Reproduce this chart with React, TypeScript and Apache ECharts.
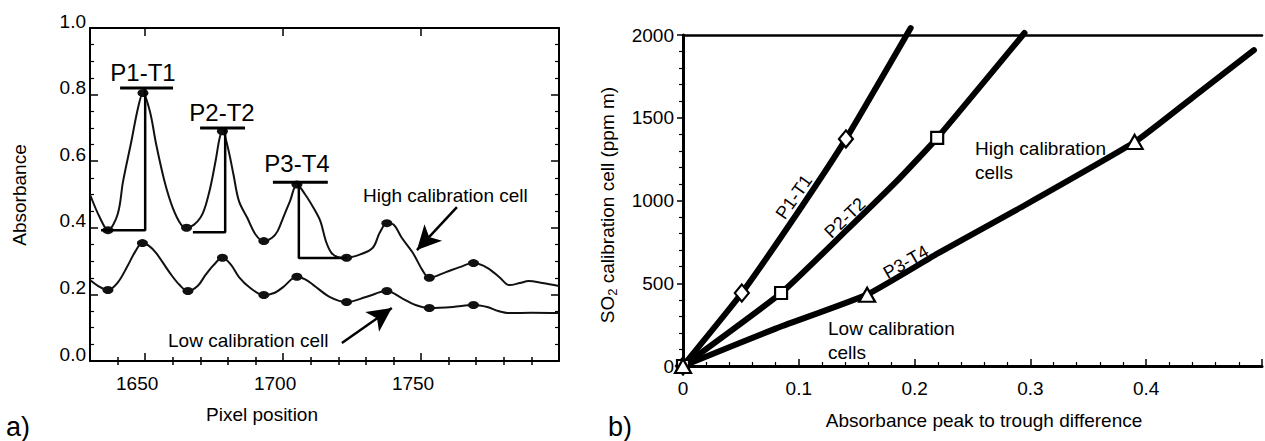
import { useEffect, useRef } from "react";
import * as echarts from "echarts";

// ---------- Panel a: absorbance spectra ----------
const highPixel = [1630, 1633.6, 1636.5, 1640, 1642, 1645, 1647.4, 1649.2, 1651.7, 1654, 1657, 1660, 1663, 1665, 1670, 1673, 1675.5, 1677, 1678, 1680, 1682, 1684, 1687, 1690, 1693, 1696, 1698, 1700, 1702.5, 1705, 1708, 1711, 1713.5, 1715.5, 1717.5, 1720, 1723, 1728, 1732.5, 1735, 1737.6, 1740, 1743, 1747, 1750.7, 1753, 1759, 1764, 1769, 1774, 1778.6, 1782, 1785.8, 1789, 1794, 1800];
const highAbs = [0.5, 0.43, 0.393, 0.44, 0.54, 0.66, 0.76, 0.805, 0.75, 0.65, 0.54, 0.46, 0.41, 0.4, 0.43, 0.5, 0.6, 0.67, 0.69, 0.64, 0.56, 0.48, 0.43, 0.38, 0.36, 0.37, 0.39, 0.43, 0.48, 0.53, 0.5, 0.46, 0.42, 0.36, 0.325, 0.312, 0.31, 0.32, 0.34, 0.385, 0.414, 0.41, 0.37, 0.325, 0.27, 0.25, 0.267, 0.282, 0.294, 0.28, 0.25, 0.228, 0.234, 0.24, 0.234, 0.225];
const highMarkPixel = [1636.5, 1649.2, 1665, 1678, 1693, 1705, 1723, 1737.6, 1753, 1769];
const highMarkAbs = [0.393, 0.805, 0.4, 0.69, 0.36, 0.53, 0.31, 0.414, 0.25, 0.294];

const lowPixel = [1630, 1633, 1636.5, 1640, 1643.4, 1646.5, 1649, 1651.5, 1654, 1659, 1662.5, 1665.5, 1669, 1672, 1675, 1678, 1681, 1684, 1688, 1693, 1697, 1700, 1705, 1708, 1711, 1717, 1723, 1730, 1737.6, 1743, 1748, 1753, 1761.5, 1769, 1774, 1778, 1782, 1790, 1800];
const lowAbs = [0.243, 0.225, 0.213, 0.235, 0.282, 0.33, 0.354, 0.345, 0.324, 0.264, 0.228, 0.21, 0.225, 0.26, 0.29, 0.31, 0.29, 0.252, 0.22, 0.198, 0.205, 0.222, 0.253, 0.245, 0.228, 0.192, 0.177, 0.192, 0.21, 0.189, 0.168, 0.159, 0.162, 0.168, 0.162, 0.15, 0.144, 0.145, 0.144];
const lowMarkPixel = [1636.5, 1649, 1665.5, 1678, 1693, 1705, 1723, 1737.6, 1753, 1769];
const lowMarkAbs = [0.213, 0.354, 0.21, 0.31, 0.198, 0.253, 0.177, 0.21, 0.159, 0.168];

const pixelTicks = [1650, 1700, 1750];
const pixelMinorTicks = [1640, 1660, 1670, 1680, 1690, 1710, 1720, 1730, 1740, 1760, 1770, 1780, 1790];

// peak-to-trough brackets
const bracketNames = ["P1-T1", "P2-T2", "P3-T4"];
const bracketBarFrom = [1640.9, 1669.9, 1696.3];
const bracketBarTo = [1660.1, 1686.2, 1716.2];
const bracketPeakPixel = [1650, 1679, 1705.7];
const bracketPeakAbs = [0.82, 0.7, 0.537];
const bracketTroughPixel = [1634, 1667.3, 1723.1];
const bracketTroughAbs = [0.393, 0.387, 0.309];

// arrows (from -> to) in data coordinates
const arrowFromPixel = [1763, 1721.3];
const arrowFromAbs = [0.462, 0.054];
const arrowToPixel = [1748.5, 1739.4];
const arrowToAbs = [0.333, 0.159];

// ---------- Panel b: calibration ----------
const p1Diff = [0, 0.0508, 0.1017, 0.1407, 0.1966];
const p1Conc = [0, 441, 955, 1372, 2042];
const p2Diff = [0, 0.0847, 0.1415, 0.1839, 0.2195, 0.2949];
const p2Conc = [0, 441, 822, 1112, 1378, 2012];
const p3Diff = [0, 0.08, 0.159, 0.22, 0.288, 0.39, 0.44, 0.493];
const p3Conc = [0, 226, 432, 680, 943, 1353, 1622, 1909];

const p1MarkDiff = [0, 0.0508, 0.1407];
const p1MarkConc = [0, 441, 1372];
const p2MarkDiff = [0, 0.0847, 0.2195];
const p2MarkConc = [0, 441, 1378];
const p3MarkDiff = [0, 0.159, 0.39];
const p3MarkConc = [0, 430, 1354];

const FONT = "'Liberation Sans', Arial, Helvetica, sans-serif";
const BLACK = "#000";

const zip = (xs: number[], ys: number[]) => xs.map((x, i) => [x, ys[i]]);

function buildOption() {
  const tickStyle = { color: BLACK, width: 1.5 };
  const labelBase = { color: BLACK, fontSize: 19, fontFamily: FONT };
  const xAxis: any[] = [
    // 0: panel a bottom, majors + labels
    {
      gridIndex: 0, type: "value", position: "bottom", min: 1630, max: 1800,
      axisLine: { show: true, onZero: false, lineStyle: { color: BLACK, width: 2 } },
      axisTick: { show: true, inside: true, length: 8, customValues: pixelTicks, lineStyle: tickStyle },
      axisLabel: {
        show: true, customValues: pixelTicks, margin: 13, ...labelBase,
        formatter: (v: number) => `{a|${v}}`,
        rich: { a: { ...labelBase, padding: [0, 16, 0, 0] } },
      },
      splitLine: { show: false },
    },
    // 1: panel a bottom minor
    {
      gridIndex: 0, type: "value", position: "bottom", min: 1630, max: 1800,
      axisLine: { show: false },
      axisTick: { show: true, inside: true, length: 4, customValues: pixelMinorTicks, lineStyle: tickStyle },
      axisLabel: { show: false },
      splitLine: { show: false },
    },
    // 2: panel a top majors
    {
      gridIndex: 0, type: "value", position: "top", min: 1630, max: 1800,
      axisLine: { show: true, onZero: false, lineStyle: { color: BLACK, width: 2 } },
      axisTick: { show: true, inside: true, length: 8, customValues: pixelTicks, lineStyle: tickStyle },
      axisLabel: { show: false },
      splitLine: { show: false },
    },
    // 3: panel a top minor
    {
      gridIndex: 0, type: "value", position: "top", min: 1630, max: 1800,
      axisLine: { show: false },
      axisTick: { show: true, inside: true, length: 4, customValues: pixelMinorTicks, lineStyle: tickStyle },
      axisLabel: { show: false },
      splitLine: { show: false },
    },
    // 4: panel b bottom
    {
      gridIndex: 1, type: "value", position: "bottom", min: 0, max: 0.5, interval: 0.1,
      axisLine: { show: true, onZero: false, lineStyle: { color: BLACK, width: 3 } },
      axisTick: { show: true, inside: true, length: 7, lineStyle: tickStyle },
      minorTick: { show: true, splitNumber: 5, length: 4, lineStyle: { color: BLACK, width: 1.2 } },
      axisLabel: {
        ...labelBase, margin: 13,
        formatter: (v: number) => (v === 0 ? "0" : v >= 0.5 ? "" : v.toFixed(1)),
      },
      splitLine: { show: false },
    },
    // 5: panel b top line
    {
      gridIndex: 1, type: "value", position: "top", min: 0, max: 0.5,
      axisLine: { show: true, onZero: false, lineStyle: { color: BLACK, width: 2.5 } },
      axisTick: { show: false }, axisLabel: { show: false }, splitLine: { show: false },
    },
  ];

  const yAxis: any[] = [
    {
      gridIndex: 0, type: "value", position: "left", min: 0, max: 1, interval: 0.2,
      axisLine: { show: true, onZero: false, lineStyle: { color: BLACK, width: 2 } },
      axisTick: { show: true, inside: true, length: 8, lineStyle: tickStyle },
      minorTick: { show: true, splitNumber: 4, length: 4, lineStyle: { color: BLACK, width: 1.2 } },
      axisLabel: {
        ...labelBase, margin: 4,
        formatter: (v: number) => `{a|${v.toFixed(1)}}`,
        rich: { a: { ...labelBase, padding: [0, 0, 14, 0] } },
      },
      splitLine: { show: false },
    },
    {
      gridIndex: 0, type: "value", position: "right", min: 0, max: 1, interval: 0.2,
      axisLine: { show: true, onZero: false, lineStyle: { color: BLACK, width: 2 } },
      axisTick: { show: true, inside: true, length: 8, lineStyle: tickStyle },
      minorTick: { show: true, splitNumber: 4, length: 4, lineStyle: { color: BLACK, width: 1.2 } },
      axisLabel: { show: false },
      splitLine: { show: false },
    },
    {
      gridIndex: 1, type: "value", position: "left", min: 0, max: 2000, interval: 500,
      axisLine: { show: true, onZero: false, lineStyle: { color: BLACK, width: 3 } },
      axisTick: { show: true, inside: false, length: 6, lineStyle: tickStyle },
      minorTick: { show: true, splitNumber: 5, length: 4, lineStyle: { color: BLACK, width: 1.2 } },
      axisLabel: { ...labelBase, margin: 9, formatter: (v: number) => String(v) },
      splitLine: { show: false },
    },
  ];

  const series: any[] = [];
  // spectra
  series.push({
    type: "line", xAxisIndex: 0, yAxisIndex: 0, data: zip(highPixel, highAbs), smooth: 0.35,
    showSymbol: false, lineStyle: { color: "#111", width: 2 },
    markLine: {
      silent: true, symbol: ["none", "arrow"], symbolSize: [18, 24], label: { show: false },
      lineStyle: { color: BLACK, width: 2.5, type: "solid" },
      itemStyle: { color: BLACK },
      data: arrowFromPixel.map((x, i) => [
        { coord: [x, arrowFromAbs[i]] },
        { coord: [arrowToPixel[i], arrowToAbs[i]] },
      ]),
    },
  });
  series.push({
    type: "scatter", xAxisIndex: 0, yAxisIndex: 0, data: zip(highMarkPixel, highMarkAbs),
    symbol: "circle", symbolSize: [11, 8], itemStyle: { color: "#111", opacity: 1 },
  });
  series.push({
    type: "line", xAxisIndex: 0, yAxisIndex: 0, data: zip(lowPixel, lowAbs), smooth: 0.35,
    showSymbol: false, lineStyle: { color: "#111", width: 2 },
  });
  series.push({
    type: "scatter", xAxisIndex: 0, yAxisIndex: 0, data: zip(lowMarkPixel, lowMarkAbs),
    symbol: "circle", symbolSize: [11, 8], itemStyle: { color: "#111", opacity: 1 },
  });
  bracketNames.forEach((_, i) => {
    series.push({
      type: "line", xAxisIndex: 0, yAxisIndex: 0, showSymbol: false,
      lineStyle: { color: BLACK, width: 3 },
      data: [[bracketBarFrom[i], bracketPeakAbs[i]], [bracketBarTo[i], bracketPeakAbs[i]]],
    });
    series.push({
      type: "line", xAxisIndex: 0, yAxisIndex: 0, showSymbol: false,
      lineStyle: { color: BLACK, width: 2.5 },
      data: [
        [bracketPeakPixel[i], bracketPeakAbs[i]],
        [bracketPeakPixel[i], bracketTroughAbs[i]],
        [bracketTroughPixel[i], bracketTroughAbs[i]],
      ],
    });
  });

  // calibration lines
  const calLine = (xs: number[], ys: number[]) => ({
    type: "line", xAxisIndex: 4, yAxisIndex: 2, data: zip(xs, ys), showSymbol: false, clip: false,
    smooth: 0.15,
    lineStyle: { color: BLACK, width: 6, cap: "round", join: "round" },
  });
  series.push(calLine(p1Diff, p1Conc), calLine(p2Diff, p2Conc), calLine(p3Diff, p3Conc));
  const calMarks = (xs: number[], ys: number[], symbol: string, size: any) => ({
    type: "scatter", xAxisIndex: 4, yAxisIndex: 2, data: zip(xs, ys), symbol, symbolSize: size, z: 5, clip: false,
    itemStyle: { color: "#fff", borderColor: BLACK, borderWidth: 2.2, opacity: 1 },
  });
  series.push(
    calMarks(p1MarkDiff, p1MarkConc, "diamond", [14, 17]),
    calMarks(p2MarkDiff, p2MarkConc, "rect", 12),
    calMarks(p3MarkDiff, p3MarkConc, "triangle", [16, 14]),
  );

  const txt = (text: string, x: number, y: number, size: number, align = "center", rotationDeg = 0, extra: any = {}) => ({
    type: "text", x, y, rotation: (rotationDeg * Math.PI) / 180, z: 50,
    style: { text, fill: BLACK, fontSize: size, fontFamily: FONT, align, verticalAlign: "middle", ...extra },
  });

  const graphic: any[] = [
    // panel a
    txt("Absorbance", 19, 195, 19, "center", 90),
    txt("Pixel position", 262, 414, 19),
    txt("a)", 6, 427, 27, "left"),
    txt(bracketNames[0], 143, 72, 24),
    txt(bracketNames[1], 222, 112, 24),
    txt(bracketNames[2], 297, 163, 24),
    txt("High calibration cell", 363, 195, 19, "left"),
    txt("Low calibration cell", 168, 340, 19, "left"),
    // panel b
    {
      type: "text", x: 607, y: 205, rotation: Math.PI / 2, z: 50,
      style: {
        text: "{a|SO}{b|2}{a| calibration cell (ppm m)}",
        fill: BLACK, fontFamily: FONT, fontSize: 19, align: "center", verticalAlign: "middle",
        rich: {
          a: { fontSize: 19, fontFamily: FONT, fill: BLACK, lineHeight: 24, verticalAlign: "middle" },
          b: { fontSize: 13, fontFamily: FONT, fill: BLACK, lineHeight: 24, verticalAlign: "bottom" },
        },
      },
    },
    txt("Absorbance peak to trough difference", 984, 420, 19),
    txt("b)", 608, 427, 27, "left"),
    txt(bracketNames[0], 794, 197, 18, "center", 55),
    txt(bracketNames[1], 845, 218, 18, "center", 44),
    txt(bracketNames[2], 906, 262, 18, "center", 30),
    txt("High calibration\ncells", 975, 160, 19, "left", 0, { lineHeight: 24 }),
    txt("Low calibration\ncells", 828, 340, 19, "left", 0, { lineHeight: 24 }),
  ];

  return {
    animation: false,
    backgroundColor: "#fff",
    grid: [
      { left: 90, top: 28, width: 469, height: 333 },
      { left: 683, top: 35, width: 590, height: 331 },
    ],
    xAxis,
    yAxis,
    series,
    graphic,
  };
}

export default function App() {
  const ref = useRef<HTMLDivElement>(null);
  useEffect(() => {
    if (!ref.current) return;
    const chart = echarts.init(ref.current, undefined, { renderer: "svg" });
    chart.setOption(buildOption() as any);
    return () => chart.dispose();
  }, []);
  return (
    <div
      ref={ref}
      style={{ position: "absolute", left: 0, top: 0, width: 1265, height: 441, background: "#fff" }}
    />
  );
}
